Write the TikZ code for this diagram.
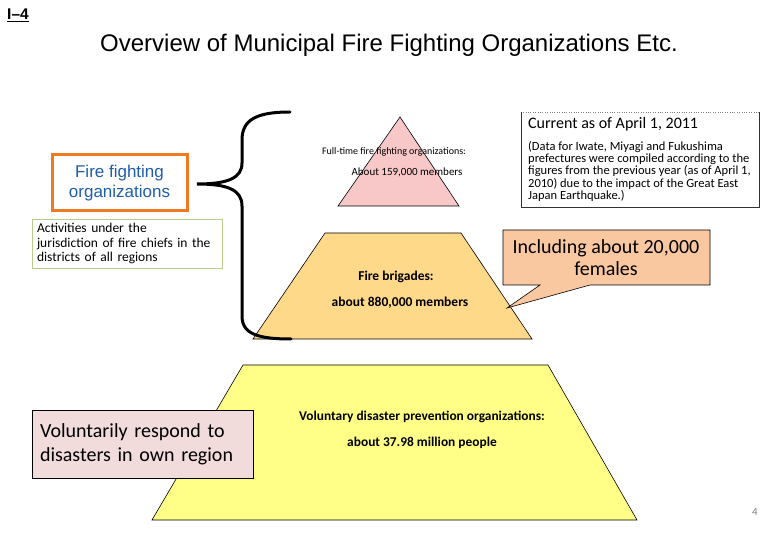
\documentclass[tikz,border=0pt]{standalone}
\usepackage{fontspec}
\setmainfont{Carlito}
\newfontfamily\arialfont{Liberation Sans}
\definecolor{toppink}{HTML}{F8C8C8}
\definecolor{brigadeorange}{HTML}{FFD98A}
\definecolor{volyellow}{HTML}{FFFF88}
\definecolor{calloutpeach}{HTML}{FAC8A0}
\definecolor{volpink}{HTML}{F2DCDB}
\definecolor{ffborder}{HTML}{F07A22}
\definecolor{ffblue}{HTML}{1F5FA8}
\definecolor{actgreen}{HTML}{B8CC8E}
\tikzset{
  tier/.style={draw=black, line width=0.6pt},
  pyrlabel/.style={font=\fontsize{10}{12}\selectfont},
  pyrbold/.style={font=\bfseries\fontsize{13.5}{16}\selectfont},
}
\begin{document}
\begin{tikzpicture}[x=1pt,y=-1pt]
    \useasboundingbox (0,0) rectangle (780,540);
    % heading
    \node[anchor=west, inner sep=0pt, font=\arialfont\bfseries\fontsize{15.5}{18}\selectfont] (secnum) at (7,15) {\underline{I–4}};
    \node[font=\arialfont\fontsize{24}{28}\selectfont] (title) at (389,45) {Overview of Municipal Fire Fighting Organizations Etc.};
    % the three tiers
    \filldraw[tier, fill=toppink] (400,117) -- (459,206) -- (338,206) -- cycle;
    \filldraw[tier, fill=brigadeorange] (325,233) -- (461,233) -- (532,339) -- (253,339) -- cycle;
    \filldraw[tier, fill=volyellow] (243,365) -- (548,365) -- (637,520) -- (152,520) -- cycle;
    \node[pyrlabel] (fulltime) at (394,152) {Full-time fire fighting organizations:};
    \node[pyrlabel, font=\fontsize{11}{13}\selectfont] (fulltimenum) at (407,172) {About 159,000 members};
    \node[pyrbold] (brigade) at (396,277) {Fire brigades:};
    \node[pyrbold] (brigadenum) at (400,303) {about 880,000 members};
    \node[pyrbold, font=\bfseries\fontsize{13.4}{15}\selectfont] (volorg) at (422,417) {Voluntary disaster prevention organizations:};
    \node[pyrbold, font=\bfseries\fontsize{13.4}{15}\selectfont] (volorgnum) at (422,443) {about 37.98 million people};
    % brace
    \draw[line width=3pt, line cap=round]
        (290,112) .. controls (256,112) and (242,120) .. (242,140) -- (242,163)
        .. controls (242,178) and (228,184) .. (197,184)
        .. controls (228,184) and (242,190) .. (242,206) -- (242,316)
        .. controls (242,334) and (258,339) .. (291,339);
    % left boxes
    \node[draw=ffborder, line width=3pt, fill=white, minimum width=135, minimum height=56, align=center,
          text=ffblue, font=\arialfont\fontsize{17}{20}\selectfont] (ffbox) at (119.5,183) {Fire fighting\\organizations};
    \node[draw=actgreen, line width=0.8pt, fill=white, minimum height=49, text width=180, inner xsep=5pt,
          align=left, font=\fontsize{13.5}{14.5}\selectfont] (actbox) at (127,243.5)
          {Activities under the\\jurisdiction of fire chiefs in the\\districts of all regions};
    \node[draw=black, line width=0.8pt, fill=volpink, minimum height=68, text width=205, inner xsep=8pt,
          align=left, font=\fontsize{20}{24}\selectfont] (volbox) at (142.5,444)
          {Voluntarily respond to\\disasters in own region};
    % note box
    \node[minimum width=238, minimum height=95, inner sep=0pt] (info) at (640,159.5) {};
    \draw[dotted, gray] (info.north west) -- (info.north east);
    \draw[black!80] (info.north east) -- (info.south east) -- (info.south west) -- (info.north west);
    \node[anchor=west, inner sep=0pt, font=\fontsize{16}{18}\selectfont] (infohead) at (528,124) {Current as of April 1, 2011};
    \node[anchor=north west, inner sep=0pt, align=left, font=\fontsize{12.5}{12.3}\selectfont] (infonote) at (528,141)
          {(Data for Iwate, Miyagi and Fukushima\\prefectures were compiled according to the\\figures from the previous year (as of April 1,\\2010) due to the impact of the Great East\\Japan Earthquake.)};
    % callout
    \filldraw[draw=black, line width=0.6pt, fill=calloutpeach]
        (503,230) -- (710,230) -- (710,285) -- (590,285) -- (507,308) -- (540,285) -- (503,285) -- cycle;
    \node[align=center, font=\fontsize{20}{22}\selectfont] (callout) at (606,258) {Including about 20,000\\females};
    % page number
    \node[text=gray, font=\fontsize{11}{13}\selectfont] (pagenum) at (755,512) {4};
\end{tikzpicture}
\end{document}
